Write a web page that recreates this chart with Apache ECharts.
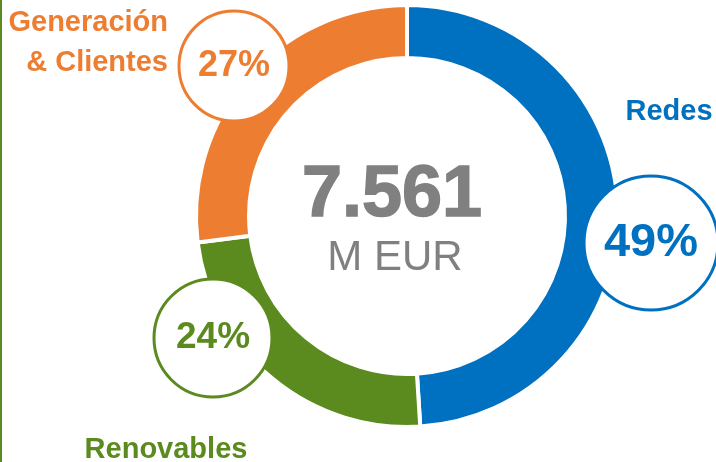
<!DOCTYPE html>
<html>
<head>
<meta charset="utf-8">
<script src="https://cdn.jsdelivr.net/npm/echarts@6/dist/echarts.min.js"></script>
<style>
  html, body { margin: 0; padding: 0; background: #fff; }
  #chart { width: 716px; height: 462px; }
</style>
</head>
<body>
<div id="chart"></div>
<script>
// datos del gráfico
const categories = ['Redes', 'Renovables', 'Generación\n& Clientes']
const shares = [49, 24, 27]
const colors = ['#0070C0', '#5B8A1E', '#ED7D31']
const totalValue = '7.561'
const totalUnit = 'M EUR'

const FONT = '"Liberation Sans", Arial, sans-serif'

// burbujas con el porcentaje (posición fija, como en la lámina)
const bubbles = [
  { x: 651, y: 243, r: 67, size: 47 },
  { x: 213, y: 338, r: 59, size: 37 },
  { x: 234, y: 66, r: 55, size: 36 }
]
// etiquetas de nombre
const names = [
  { x: 669, y: 112, align: 'center' },
  { x: 166, y: 450, align: 'center' },
  { x: 168, y: 43, align: 'right' }
]

const graphics = [
  {
    type: 'rect',
    shape: { x: 0, y: 0, width: 2, height: 462 },
    style: { fill: '#5B8A1E' }
  },
  {
    type: 'text',
    x: 392, y: 196,
    style: {
      text: totalValue, font: 'bold 72px ' + FONT, fill: '#808080',
      stroke: '#808080', lineWidth: 1.5,
      textAlign: 'center', textVerticalAlign: 'middle'
    }
  },
  {
    type: 'text',
    x: 395, y: 258,
    style: {
      text: totalUnit, font: '42px ' + FONT, fill: '#808080',
      textAlign: 'center', textVerticalAlign: 'middle'
    }
  }
]

shares.forEach((v, i) => {
  const b = bubbles[i]
  graphics.push({
    type: 'circle',
    z: 10,
    shape: { cx: b.x, cy: b.y, r: b.r },
    style: { fill: '#fff', stroke: colors[i], lineWidth: 3 }
  })
  graphics.push({
    type: 'text',
    z: 11,
    x: b.x, y: b.y,
    style: {
      text: v + '%', font: 'bold ' + b.size + 'px ' + FONT, fill: colors[i],
      textAlign: 'center', textVerticalAlign: 'middle'
    }
  })
  const n = names[i]
  graphics.push({
    type: 'text',
    z: 11,
    x: n.x, y: n.y,
    style: {
      text: categories[i], font: 'bold 29px ' + FONT, fill: colors[i],
      textAlign: n.align, textVerticalAlign: 'middle', lineHeight: 40
    }
  })
})

const chart = echarts.init(document.getElementById('chart'))
chart.setOption({
  animation: false,
  graphic: graphics,
  series: [
    {
      type: 'pie',
      silent: true,
      center: [407, 216],
      radius: [158, 211],
      startAngle: 90,
      clockwise: true,
      label: { show: false },
      labelLine: { show: false },
      itemStyle: { borderColor: '#fff', borderWidth: 4 },
      data: shares.map((v, i) => ({
        name: categories[i],
        value: v,
        itemStyle: { color: colors[i] }
      }))
    }
  ]
})
</script>
</body>
</html>
